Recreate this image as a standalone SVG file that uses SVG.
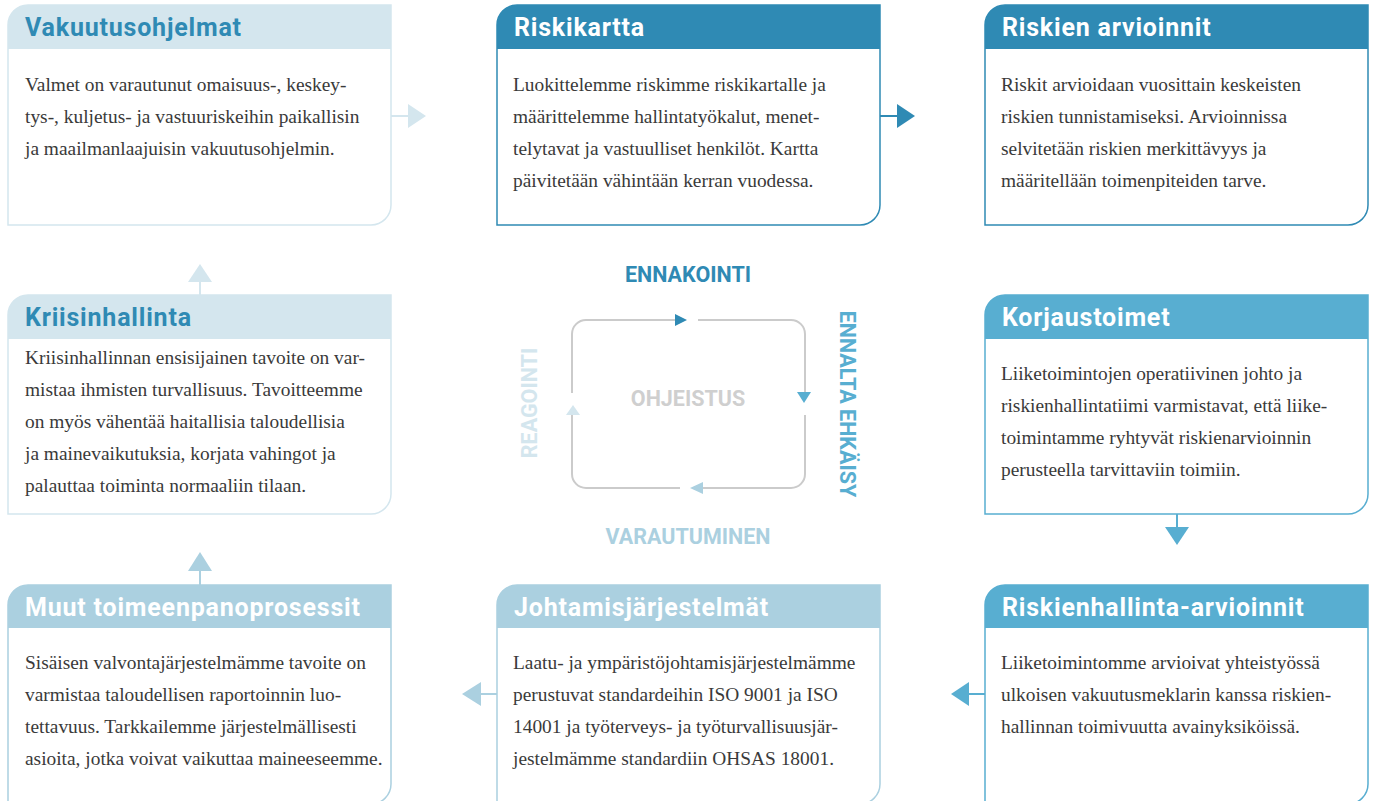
<svg xmlns="http://www.w3.org/2000/svg" width="1373" height="801" viewBox="0 0 1373 801">
<defs>
<style>
.t{font-family:Roboto,"Open Sans",sans-serif;font-weight:700;font-size:25px;letter-spacing:0.8px}
.b{font-family:"Liberation Serif","Times New Roman",serif;font-size:19.4px;fill:#3a3a3a}
.lab{font-family:Roboto,"Open Sans",sans-serif;font-weight:700;font-size:21.5px;text-anchor:middle}
.dk{fill:#2f8ab4}.md{fill:#58aed1}.lb{fill:#abd0e0}.vl{fill:#d4e6ee}
.sdk{stroke:#2f8ab4}.smd{stroke:#58aed1}.slb{stroke:#abd0e0}.svl{stroke:#d4e6ee}
.box{fill:#fff;stroke-width:1.5}
.con{fill:none;stroke-width:2}
.cyc{fill:none;stroke:#cbcbcb;stroke-width:2}
</style>
</defs>
<rect width="1373" height="801" fill="#fff"/>

<g id="vakuutusohjelmat">
<path class="box svl" d="M8,25 A20,20 0 0 1 28,5 H391 V205 A20,20 0 0 1 371,225 H8 Z"/>
<path class="vl" d="M8,49 V25 A20,20 0 0 1 28,5 H391 V49 Z"/>
<text class="t dk" x="25" y="36">Vakuutusohjelmat</text>
<text class="b" x="25"><tspan x="25" y="91">Valmet on varautunut omaisuus-, keskey-</tspan><tspan x="25" y="123">tys-, kuljetus- ja vastuuriskeihin paikallisin</tspan><tspan x="25" y="155">ja maailmanlaajuisin vakuutusohjelmin.</tspan></text>
</g>

<g id="riskikartta">
<path class="box sdk" d="M497,25 A20,20 0 0 1 517,5 H880 V205 A20,20 0 0 1 860,225 H497 Z"/>
<path class="dk" d="M497,49 V25 A20,20 0 0 1 517,5 H880 V49 Z"/>
<text class="t" fill="#fff" x="514" y="36">Riskikartta</text>
<text class="b"><tspan x="513" y="91">Luokittelemme riskimme riskikartalle ja</tspan><tspan x="513" y="123">määrittelemme hallintatyökalut, menet-</tspan><tspan x="513" y="155">telytavat ja vastuulliset henkilöt. Kartta</tspan><tspan x="513" y="187">päivitetään vähintään kerran vuodessa.</tspan></text>
</g>

<g id="riskien-arvioinnit">
<path class="box sdk" d="M985,25 A20,20 0 0 1 1005,5 H1368 V205 A20,20 0 0 1 1348,225 H985 Z"/>
<path class="dk" d="M985,49 V25 A20,20 0 0 1 1005,5 H1368 V49 Z"/>
<text class="t" fill="#fff" x="1002" y="36">Riskien arvioinnit</text>
<text class="b"><tspan x="1001" y="91">Riskit arvioidaan vuosittain keskeisten</tspan><tspan x="1001" y="123">riskien tunnistamiseksi. Arvioinnissa</tspan><tspan x="1001" y="155">selvitetään riskien merkittävyys ja</tspan><tspan x="1001" y="187">määritellään toimenpiteiden tarve.</tspan></text>
</g>

<g id="kriisinhallinta">
<path class="box svl" d="M8,315 A20,20 0 0 1 28,295 H391 V494 A20,20 0 0 1 371,514 H8 Z"/>
<path class="vl" d="M8,339 V315 A20,20 0 0 1 28,295 H391 V339 Z"/>
<text class="t dk" x="25" y="326">Kriisinhallinta</text>
<text class="b"><tspan x="25" y="364">Kriisinhallinnan ensisijainen tavoite on var-</tspan><tspan x="25" y="396">mistaa ihmisten turvallisuus. Tavoitteemme</tspan><tspan x="25" y="428">on myös vähentää haitallisia taloudellisia</tspan><tspan x="25" y="460">ja mainevaikutuksia, korjata vahingot ja</tspan><tspan x="25" y="492">palauttaa toiminta normaaliin tilaan.</tspan></text>
</g>

<g id="korjaustoimet">
<path class="box smd" d="M985,315 A20,20 0 0 1 1005,295 H1368 V494 A20,20 0 0 1 1348,514 H985 Z"/>
<path class="md" d="M985,339 V315 A20,20 0 0 1 1005,295 H1368 V339 Z"/>
<text class="t" fill="#fff" x="1002" y="326">Korjaustoimet</text>
<text class="b"><tspan x="1001" y="380">Liiketoimintojen operatiivinen johto ja</tspan><tspan x="1001" y="412">riskienhallintatiimi varmistavat, että liike-</tspan><tspan x="1001" y="444">toimintamme ryhtyvät riskienarvioinnin</tspan><tspan x="1001" y="476">perusteella tarvittaviin toimiin.</tspan></text>
</g>

<g id="muut-toimeenpanoprosessit">
<path class="box slb" d="M8,605 A20,20 0 0 1 28,585 H391 V784 A20,20 0 0 1 371,804 H8 Z"/>
<path class="lb" d="M8,628 V605 A20,20 0 0 1 28,585 H391 V628 Z"/>
<text class="t" fill="#fff" x="25" y="616">Muut toimeenpanoprosessit</text>
<text class="b"><tspan x="25" y="669">Sisäisen valvontajärjestelmämme tavoite on</tspan><tspan x="25" y="701">varmistaa taloudellisen raportoinnin luo-</tspan><tspan x="25" y="733">tettavuus. Tarkkailemme järjestelmällisesti</tspan><tspan x="25" y="765">asioita, jotka voivat vaikuttaa maineeseemme.</tspan></text>
</g>

<g id="johtamisjarjestelmat">
<path class="box slb" d="M497,605 A20,20 0 0 1 517,585 H880 V784 A20,20 0 0 1 860,804 H497 Z"/>
<path class="lb" d="M497,628 V605 A20,20 0 0 1 517,585 H880 V628 Z"/>
<text class="t" fill="#fff" x="514" y="616">Johtamisjärjestelmät</text>
<text class="b"><tspan x="513" y="669">Laatu- ja ympäristöjohtamisjärjestelmämme</tspan><tspan x="513" y="701">perustuvat standardeihin ISO 9001 ja ISO</tspan><tspan x="513" y="733">14001 ja työterveys- ja työturvallisuusjär-</tspan><tspan x="513" y="765">jestelmämme standardiin OHSAS 18001.</tspan></text>
</g>

<g id="riskienhallinta-arvioinnit">
<path class="box smd" d="M985,605 A20,20 0 0 1 1005,585 H1368 V784 A20,20 0 0 1 1348,804 H985 Z"/>
<path class="md" d="M985,628 V605 A20,20 0 0 1 1005,585 H1368 V628 Z"/>
<text class="t" fill="#fff" x="1002" y="616">Riskienhallinta-arvioinnit</text>
<text class="b"><tspan x="1001" y="669">Liiketoimintomme arvioivat yhteistyössä</tspan><tspan x="1001" y="701">ulkoisen vakuutusmeklarin kanssa riskien-</tspan><tspan x="1001" y="733">hallinnan toimivuutta avainyksiköissä.</tspan></text>
</g>

<g id="connectors">
<line class="con svl" x1="391" y1="116" x2="409" y2="116"/>
<polygon class="vl" points="408,104 426,116 408,128"/>
<line class="con sdk" x1="880" y1="116" x2="898" y2="116"/>
<polygon class="dk" points="897,104 915,116 897,128"/>
<line class="con smd" x1="1177" y1="514" x2="1177" y2="528"/>
<polygon class="md" points="1165,527 1189,527 1177,545"/>
<line class="con smd" x1="985" y1="694" x2="968" y2="694"/>
<polygon class="md" points="969,682 969,706 951,694"/>
<line class="con slb" x1="497" y1="694" x2="480" y2="694"/>
<polygon class="lb" points="481,682 481,706 462,694"/>
<line class="con slb" x1="200" y1="585" x2="200" y2="570"/>
<polygon class="lb" points="188,571 212,571 200,552"/>
<line class="con svl" x1="200" y1="295" x2="200" y2="281"/>
<polygon class="vl" points="188,282 212,282 200,264"/>
</g>

<g id="cycle">
<path class="cyc" d="M572,393 V334 A14,14 0 0 1 586,320 H676"/>
<path class="cyc" d="M698,320 H791 A14,14 0 0 1 805,334 V393"/>
<path class="cyc" d="M805,415 V474 A14,14 0 0 1 791,488 H702"/>
<path class="cyc" d="M680,488 H586 A14,14 0 0 1 572,474 V414"/>
<polygon class="dk" points="675,314 687,320 675,326"/>
<polygon class="md" points="797,392 811,392 804,403"/>
<polygon class="lb" points="703,482 703,494 690,488"/>
<polygon class="vl" points="566,415 580,415 573,405"/>
<text class="lab dk" x="688" y="281.5">ENNAKOINTI</text>
<text class="lab lb" x="688" y="543.5">VARAUTUMINEN</text>
<text class="lab" fill="#cfcfcf" x="688" y="405.5">OHJEISTUS</text>
<text class="lab md" transform="translate(839.5,404) rotate(90)">ENNALTA EHKÄISY</text>
<text class="lab vl" transform="translate(536.5,403) rotate(-90)">REAGOINTI</text>
</g>
</svg>
